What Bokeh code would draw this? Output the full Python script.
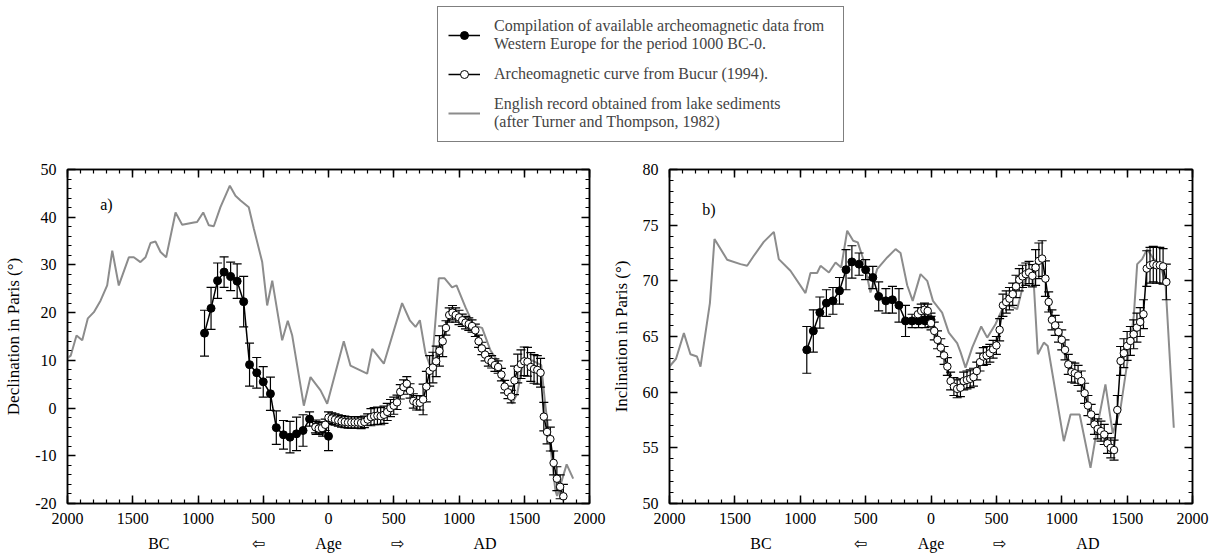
from bokeh.plotting import figure
from bokeh.models import (ColumnDataSource, LinearAxis, SingleIntervalTicker, FixedTicker,
                          CustomJSTickFormatter, Legend, LegendItem, Label, Range1d)
from bokeh.layouts import column, row
from bokeh.embed import file_html
from bokeh.resources import INLINE

FONT = "Liberation Serif"
GRAY = "#8c8c8c"

# ---------------- data ----------------
# Compilation of archeomagnetic data, Western Europe, 1000 BC - 0
COMP_YEARS = [-950, -900, -850, -800, -750, -700, -650, -605, -550, -500,
              -445, -400, -345, -295, -245, -195, -145, -95, -45, 0]
COMP_DEC = [15.7, 20.9, 26.7, 28.5, 27.6, 26.6, 22.3, 9.1, 7.4, 5.5,
            3.0, -4.1, -5.6, -6.1, -5.4, -4.7, -2.3, -4.0, -4.4, -5.9]
COMP_DEC_ERR = [4.8, 4.4, 3.7, 3.2, 3.0, 3.6, 5.3, 4.5, 3.2, 3.2,
                3.5, 3.5, 3.0, 3.3, 3.5, 3.3, 1.5, 1.5, 1.5, 3.0]
COMP_INC = [63.8, 65.5, 67.15, 68.0, 68.2, 69.1, 71.0, 71.7, 71.5, 71.0,
            70.3, 68.6, 68.2, 68.3, 67.8, 66.4, 66.4, 66.4, 66.4, 66.5]
COMP_INC_ERR = [2.1, 1.9, 1.4, 1.2, 1.2, 1.2, 1.8, 1.45, 1.0, 0.9,
                1.0, 1.3, 1.1, 1.2, 1.5, 1.4, 0.6, 0.6, 0.6, 0.6]

# Archeomagnetic curve from Bucur (1994)
BUCUR_YEARS = [-100, -75, -50, -25, 0, 25, 50, 75, 100, 125, 150, 175, 200, 225, 250, 275,
               300, 325, 350, 375, 400, 425, 450, 475, 500, 525, 550, 575, 600, 625, 650,
               675, 700, 725, 750, 775, 800, 825, 850, 875, 900, 925, 950, 975, 1000, 1025,
               1050, 1075, 1100, 1125, 1150, 1175, 1200, 1225, 1250, 1275, 1300, 1325, 1350,
               1375, 1400, 1425, 1450, 1475, 1500, 1525, 1550, 1575, 1600, 1625, 1650, 1675,
               1700, 1725, 1750, 1775, 1800]
BUCUR_DEC = [-4.0, -4.3, -4.2, -3.5, -2.0, -2.2, -2.4, -2.6, -2.8, -2.9, -3.0, -3.0, -3.0, -3.0,
             -3.1, -2.9, -2.4, -1.9, -1.7, -1.6, -1.7, -1.4, -0.8, 0.0, 0.5, 1.2, 3.4, 4.4, 5.1,
             3.6, 1.5, 1.1, 1.1, 1.8, 4.5, 7.8, 8.5, 9.8, 12.0, 14.0, 16.8, 19.5, 20.0, 19.5,
             19.0, 18.4, 17.9, 17.6, 17.2, 16.3, 14.0, 12.5, 11.2, 10.1, 9.7, 9.0, 8.6, 7.0,
             4.5, 3.3, 2.4, 5.8, 8.3, 9.2, 9.8, 9.7, 8.6, 8.2, 8.0, 7.4, -1.8, -5.0, -6.5,
             -11.5, -14.8, -16.5, -18.5]
BUCUR_DEC_ERR = [1.2] * 17 + [1.8] * 8 + [1.5] * 8 + [3.2] * 7 + [1.5] * 5 + [1.3] * 16 + [3.0] * 10 + [2.5] * 6
BUCUR_INC = [67.0, 67.3, 67.4, 67.3, 66.2, 65.5, 64.7, 64.0, 63.3, 62.3, 61.0, 60.5, 60.3, 60.4,
             61.0, 61.1, 61.2, 61.35, 61.9, 62.7, 63.2, 63.3, 63.5, 63.85, 64.2, 65.6, 67.8,
             68.1, 68.4, 68.8, 69.5, 70.1, 70.4, 70.6, 70.75, 70.45, 71.2, 71.8, 72.0, 70.2,
             68.1, 66.5, 66.0, 65.4, 64.7, 63.8, 62.5, 61.8, 61.7, 61.5, 61.0, 59.9, 58.8,
             58.0, 57.1, 56.7, 56.5, 56.2, 55.4, 55.0, 54.8, 58.4, 62.8, 63.5, 64.15, 64.6,
             65.2, 65.8, 66.3, 67.0, 71.1, 71.4, 71.5, 71.4, 71.4, 71.3, 69.9]
BUCUR_INC_ERR = [0.6] * 5 + [0.8] * 20 + [1.0] * 11 + [1.6] * 4 + [0.9] * 21 + [1.3] * 9 + [1.6] * 7

# English record from lake sediments (Turner and Thompson, 1982)
ENG_DEC_YEARS = [-2000, -1975, -1931, -1887, -1844, -1798, -1747, -1696, -1657, -1607, -1530,
                 -1492, -1441, -1402, -1364, -1326, -1287, -1244, -1172, -1121, -1032, -1007,
                 -960, -917, -879, -828, -756, -713, -674, -611, -572, -508, -470, -431, -355,
                 -312, -278, -189, -138, -61, -10, 117, 168, 296, 335, 424, 564, 623, 667, 700,
                 743, 790, 845, 890, 947, 981, 1050, 1113, 1177, 1241, 1292, 1343, 1407, 1446,
                 1490, 1560, 1630, 1660, 1700, 1739, 1752, 1825, 1875]
ENG_DEC = [10.5, 11.0, 15.2, 14.2, 18.8, 20.1, 22.5, 25.7, 33.0, 25.7, 31.6,
           31.6, 30.6, 31.6, 34.6, 34.9, 32.7, 31.6, 41.0, 38.4, 38.9, 39.0,
           41.0, 38.3, 38.1, 42.1, 46.6, 44.5, 43.5, 42.1, 37.6, 30.6, 21.5, 26.7, 14.2,
           18.3, 15.2, 0.5, 6.5, 3.7, 0.9, 14.0, 8.9, 7.2, 12.4, 9.3, 22.0, 18.4, 17.0, 18.4,
           11.5, 8.0, 27.2, 27.2, 25.3, 25.7, 21.1, 17.3, 16.8, 12.1, 10.0, 5.8, 0.9, 3.0,
           9.5, 10.0, 9.0, 1.0, -8.0, -17.3, -18.4, -11.8, -14.8]
ENG_INC_YEARS = [-2000, -1950, -1890, -1840, -1790, -1763, -1691, -1656, -1559, -1457, -1406,
                 -1355, -1279, -1202, -1164, -1075, -960, -922, -871, -845, -781, -730, -687,
                 -641, -595, -560, -514, -463, -412, -335, -271, -233, -182, -140, -80, -29, 15,
                 85, 136, 200, 226, 264, 315, 384, 430, 493, 557, 608, 659, 710, 780, 817, 863,
                 893, 1016, 1067, 1137, 1220, 1283, 1334, 1390, 1449, 1526, 1551, 1577, 1615,
                 1653, 1700, 1755, 1793, 1857]
ENG_INC = [62.3, 63.0, 65.3, 63.4, 63.2, 62.3, 68.0, 73.75, 71.9, 71.5, 71.35,
           72.25, 73.5, 74.4, 71.95, 70.9, 68.9, 70.7, 70.7, 71.35, 70.75, 71.65, 71.2,
           74.5, 73.6, 73.45, 71.8, 68.95, 71.05, 72.1, 72.85, 72.5, 69.6, 68.2, 70.6, 70.0, 68.2,
           67.15, 65.35, 64.4, 63.6, 62.2, 64.0, 65.9, 64.9, 66.1, 67.75, 67.75, 67.45, 69.85, 71.0, 63.4, 64.45,
           64.15, 55.6, 58.0, 58.0, 53.2, 57.6, 60.7, 56.3, 58.5, 64.6, 66.85, 71.5, 71.95,
           72.85, 72.0, 71.35, 69.85, 56.8]

# "BC  <-  Age  ->  AD" row under each x axis
AGE_TICKS = [-1300, -540, 0, 525, 1200]
AGE_LABELS = ["BC", "\u21e6", "Age", "\u21e8", "AD"]

LEGEND_LABELS = [
    "Compilation of available archeomagnetic data from\nWestern Europe for the period 1000 BC-0.",
    "Archeomagnetic curve from Bucur (1994).",
    "English record obtained from lake sediments\n(after Turner and Thompson, 1982)",
]


def style_axis(ax, labels=True, standoff=9):
    ax.axis_line_color = "black"
    ax.axis_line_width = 1.5
    ax.major_tick_in = 8
    ax.major_tick_out = 0
    ax.minor_tick_in = 4
    ax.minor_tick_out = 0
    ax.major_tick_line_color = "black"
    ax.major_tick_line_width = 1.5
    ax.minor_tick_line_color = "black"
    ax.minor_tick_line_width = 1.2
    ax.major_label_text_font = FONT
    ax.major_label_text_font_size = "16px"
    ax.major_label_text_color = "black"
    ax.major_label_standoff = standoff
    ax.axis_label_text_font = FONT
    ax.axis_label_text_font_size = "17px"
    ax.axis_label_text_font_style = "normal"
    ax.axis_label_text_color = "black"
    ax.axis_label_standoff = 9
    if not labels:
        ax.major_label_text_font_size = "0px"
        ax.major_label_text_color = None
        ax.major_label_standoff = 0


def error_bars(p, xs, ys, errs):
    src = ColumnDataSource(dict(x=xs, lo=[y - e for y, e in zip(ys, errs)],
                                hi=[y + e for y, e in zip(ys, errs)]))
    p.segment(x0="x", y0="lo", x1="x", y1="hi", source=src, line_color="black", line_width=1.2)
    p.scatter(x="x", y="lo", source=src, marker="dash", size=9, line_color="black", line_width=1.2)
    p.scatter(x="x", y="hi", source=src, marker="dash", size=9, line_color="black", line_width=1.2)


def make_panel(width, border_left, border_right, y_start, y_end, y_interval, y_label,
               eng_x, eng_y, comp_y, comp_err, bucur_y, bucur_err, tag, tag_y):
    p = figure(width=width, height=405, x_range=Range1d(-2000, 2000),
               y_range=Range1d(y_start, y_end), output_backend="svg", toolbar_location=None,
               min_border_left=border_left, min_border_right=border_right,
               min_border_top=19, min_border_bottom=52)
    p.grid.visible = False
    p.outline_line_color = "black"
    p.outline_line_width = 1.5
    p.background_fill_color = "white"
    p.border_fill_color = "white"

    xa = p.xaxis[0]
    xa.ticker = SingleIntervalTicker(interval=500, num_minor_ticks=5)
    xa.formatter = CustomJSTickFormatter(code="return Math.abs(tick).toString();")
    style_axis(xa, True, 9)
    ya = p.yaxis[0]
    ya.ticker = SingleIntervalTicker(interval=y_interval, num_minor_ticks=5)
    ya.formatter = CustomJSTickFormatter(code="return tick.toString();")
    style_axis(ya, True, 11)
    ya.axis_label = y_label

    top = LinearAxis(ticker=SingleIntervalTicker(interval=500, num_minor_ticks=5))
    style_axis(top, False)
    p.add_layout(top, "above")
    right = LinearAxis(ticker=SingleIntervalTicker(interval=y_interval, num_minor_ticks=5))
    style_axis(right, False)
    p.add_layout(right, "right")

    age = LinearAxis(ticker=FixedTicker(ticks=AGE_TICKS),
                     formatter=CustomJSTickFormatter(
                         args=dict(tick_pos=AGE_TICKS, tick_txt=AGE_LABELS),
                         code="const i = tick_pos.indexOf(tick); return i >= 0 ? tick_txt[i] : '';"))
    style_axis(age, True, 8)
    age.axis_line_color = None
    age.major_tick_line_color = None
    age.minor_tick_line_color = None
    p.add_layout(age, "below")

    # English lake-sediment record
    p.line(eng_x, eng_y, line_color=GRAY, line_width=2)
    # error bars
    error_bars(p, COMP_YEARS, comp_y, comp_err)
    error_bars(p, BUCUR_YEARS, bucur_y, bucur_err)
    # curves
    p.line(COMP_YEARS, comp_y, line_color="black", line_width=1.5)
    p.line(BUCUR_YEARS, bucur_y, line_color="black", line_width=1.5)
    p.scatter(COMP_YEARS, comp_y, marker="circle", size=8, fill_color="black", line_color="black")
    p.scatter(BUCUR_YEARS, bucur_y, marker="circle", size=7.5, fill_color="white",
              line_color="black", line_width=1)

    p.add_layout(Label(x=-1750, y=tag_y, text=tag, text_font=FONT, text_font_size="16px",
                       text_baseline="middle", text_align="left", text_color="black"))
    return p


p1 = make_panel(607, 67, 18, -20, 50, 10, "Declination in Paris (°)",
                ENG_DEC_YEARS, ENG_DEC, COMP_DEC, COMP_DEC_ERR, BUCUR_DEC, BUCUR_DEC_ERR, "a)", 42.7)
p2 = make_panel(610, 62, 25, 50, 80, 5, "Inclination in Paris (°)",
                ENG_INC_YEARS, ENG_INC, COMP_INC, COMP_INC_ERR, BUCUR_INC, BUCUR_INC_ERR, "b)", 76.4)

# legend panel (proxy renderers sit outside the visible range; only their legend glyphs show)
lf = figure(width=1217, height=150, x_range=Range1d(0, 1), y_range=Range1d(0, 1),
            output_backend="svg", toolbar_location=None, x_axis_location=None,
            y_axis_location=None, min_border_left=437, min_border_top=6,
            min_border_right=0, min_border_bottom=0)
lf.grid.visible = False
lf.outline_line_color = None
proxy = dict(x=[-5, -4], y=[-5, -4])
l1 = lf.line("x", "y", source=ColumnDataSource(proxy), line_color="black", line_width=1.5)
m1 = lf.scatter("x", "y", source=ColumnDataSource(proxy), marker="circle", size=8,
                fill_color="black", line_color="black")
l2 = lf.line("x", "y", source=ColumnDataSource(proxy), line_color="black", line_width=1.5)
m2 = lf.scatter("x", "y", source=ColumnDataSource(proxy), marker="circle", size=7,
                fill_color="white", line_color="black")
l3 = lf.line("x", "y", source=ColumnDataSource(proxy), line_color=GRAY, line_width=2)
legend = Legend(items=[LegendItem(label=LEGEND_LABELS[0], renderers=[l1, m1]),
                       LegendItem(label=LEGEND_LABELS[1], renderers=[l2, m2]),
                       LegendItem(label=LEGEND_LABELS[2], renderers=[l3])],
                location="top_left", margin=0, border_line_color="black",
                border_line_width=1.5, label_text_font=FONT, label_text_font_size="16px",
                label_text_line_height=1.07, glyph_width=32, label_standoff=14,
                padding=10, spacing=11, label_width=339, background_fill_color="white")
lf.add_layout(legend)

layout = column(lf, row(p1, p2))
open("out.html", "w").write(file_html(layout, INLINE))
